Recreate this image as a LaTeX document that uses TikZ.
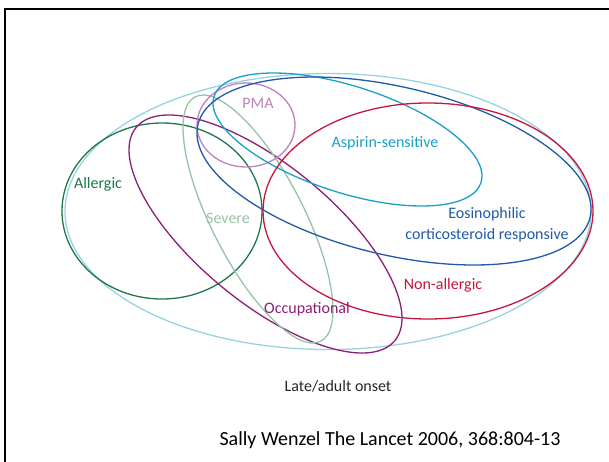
\documentclass[tikz,border=0pt]{standalone}
\usepackage{fontspec}
\setmainfont{Carlito}
\usetikzlibrary{positioning}

\definecolor{onsetblue}{RGB}{150,210,228}
\definecolor{allergicgreen}{RGB}{30,120,72}
\definecolor{severegreen}{RGB}{150,195,168}
\definecolor{pmapink}{RGB}{190,130,190}
\definecolor{aspirincyan}{RGB}{24,160,200}
\definecolor{eosinblue}{RGB}{32,90,168}
\definecolor{nonallred}{RGB}{198,22,62}
\definecolor{occpurple}{RGB}{138,30,120}

\begin{document}
\begin{tikzpicture}[x=1pt, y=-1pt]
	\tikzstyle{set} = [line width=1.3pt]
	\tikzstyle{lbl} = [inner sep=0pt, font=\fontsize{16}{21}\selectfont, align=center]
	
	\useasboundingbox (0,0) rectangle (609,461);
	\draw[line width=2.5pt] (5,470) -- (5,9) -- (620,9);
	
	% the sets
	\draw[set, onsetblue] (328,211.5) ellipse [x radius=263pt, y radius=138pt];
	\draw[set, allergicgreen] (162,211) ellipse [x radius=100pt, y radius=88pt];
	\draw[set, occpurple, rotate around={-39.5:(265.5,234)}] (265.5,234) ellipse [x radius=167.6pt, y radius=68.5pt];
	\draw[set, severegreen, rotate around={-62.8:(258,219)}] (258,219) ellipse [x radius=137.4pt, y radius=46pt];
	\draw[set, pmapink] (246,125) ellipse [x radius=49pt, y radius=42pt];
	\draw[set, aspirincyan, rotate around={-17.9:(347.5,139.5)}] (347.5,139.5) ellipse [x radius=140.3pt, y radius=53.2pt];
	\draw[set, eosinblue, rotate around={-13.3:(394,171)}] (394,171) ellipse [x radius=201.5pt, y radius=84pt];
	\draw[set, nonallred] (428,211) ellipse [x radius=165pt, y radius=108pt];
	
	% labels
	\node[lbl, text=pmapink] (pma) at (258,103) {PMA};
	\node[lbl, text=aspirincyan] (aspirin) at (385,143) {Aspirin-sensitive};
	\node[lbl, text=allergicgreen] (allergic) at (98,184) {Allergic};
	\node[lbl, text=severegreen] (severe) at (228,218) {Severe};
	\node[lbl, text=eosinblue] (eosin) at (487,225) {Eosinophilic\\corticosteroid responsive};
	\node[lbl, text=nonallred] (nonallergic) at (443,285) {Non-allergic};
	\node[lbl, text=occpurple] (occupational) at (307,309) {Occupational};
	\node[lbl, text=black!85] (onset) at (338,386) {Late/adult onset};
	
	\node[inner sep=0pt, font=\fontsize{20}{24}\selectfont] (source) at (390,440) {Sally Wenzel The Lancet 2006, 368:804-13};
\end{tikzpicture}
\end{document}
